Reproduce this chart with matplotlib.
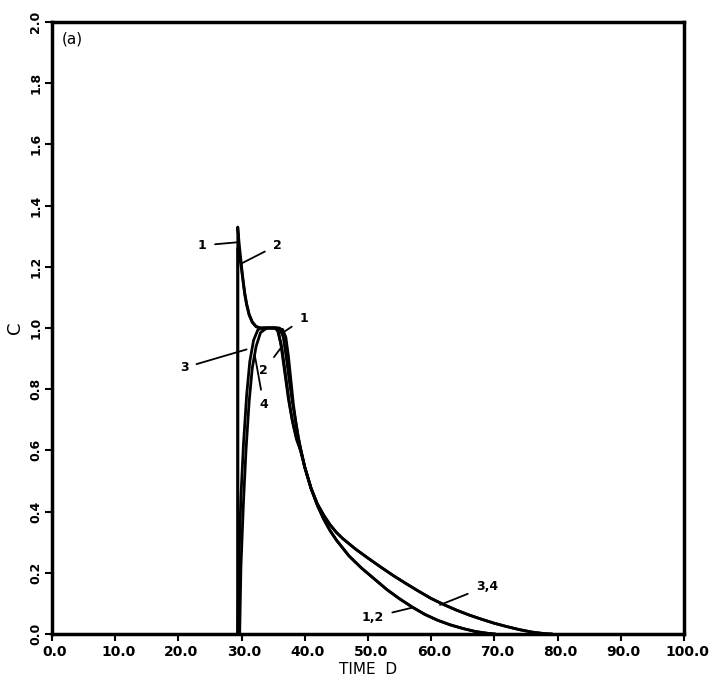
import numpy as np
import matplotlib
matplotlib.use('Agg')
import matplotlib.pyplot as plt
import matplotlib.transforms as mtransforms

plt.rcParams['font.family'] = 'DejaVu Sans'

# curves: time D, concentration C
t1 = [29.4, 29.4, 29.6, 29.8, 30.0, 30.25, 30.5, 30.8, 31.2, 31.7, 32.3, 33.0, 35.5, 36.5,
      37.0, 37.4, 37.8, 38.2, 38.6, 39.0, 39.5, 40.0, 41.0, 42.0, 43.0, 44.0, 45.0, 47.0,
      49.0, 51.0, 53.0, 55.0, 57.0, 59.0, 61.0, 63.0, 65.0, 67.0, 69.0, 70.0]
c1 = [0.0, 1.33, 1.28, 1.24, 1.20, 1.155, 1.115, 1.08, 1.045, 1.02, 1.005, 1.0, 1.0, 0.995,
      0.97, 0.91, 0.83, 0.75, 0.69, 0.64, 0.59, 0.545, 0.475, 0.42, 0.375, 0.338, 0.307, 0.255,
      0.215, 0.18, 0.145, 0.115, 0.088, 0.064, 0.045, 0.03, 0.018, 0.008, 0.002, 0.0]

t2 = [29.4, 29.4, 29.6, 29.8, 30.0, 30.25, 30.5, 30.8, 31.2, 31.7, 32.3, 33.0, 35.2, 35.8,
      36.4, 37.0, 37.6, 38.2, 38.7, 39.5, 40.0, 41.0, 42.0, 43.0, 44.0, 45.0, 47.0,
      49.0, 51.0, 53.0, 55.0, 57.0, 59.0, 61.0, 63.0, 65.0, 67.0, 69.0, 70.0]
c2 = [0.0, 1.26, 1.25, 1.225, 1.19, 1.15, 1.11, 1.075, 1.042, 1.018, 1.004, 1.0, 1.0, 0.99,
      0.93, 0.84, 0.75, 0.68, 0.635, 0.59, 0.545, 0.475, 0.42, 0.375, 0.338, 0.307, 0.255,
      0.215, 0.18, 0.145, 0.115, 0.088, 0.064, 0.045, 0.03, 0.018, 0.008, 0.002, 0.0]

t3 = [29.4, 29.6, 29.9, 30.3, 30.8, 31.3, 31.9, 32.6, 33.5, 36.0, 36.6, 37.1, 37.6, 38.1,
      38.6, 39.0, 39.5, 40.0, 41.0, 42.0, 43.0, 44.0, 45.0, 46.0, 48.0, 50.0, 52.0, 54.0,
      56.0, 58.0, 60.0, 62.0, 64.0, 66.0, 68.0, 70.0, 72.0, 74.0, 76.0, 78.0, 79.0]
c3 = [0.0, 0.25, 0.45, 0.62, 0.78, 0.89, 0.96, 0.995, 1.0, 1.0, 0.97, 0.90, 0.82, 0.75,
      0.69, 0.64, 0.59, 0.545, 0.476, 0.425, 0.388, 0.357, 0.332, 0.312, 0.278, 0.248, 0.219, 0.191,
      0.165, 0.14, 0.116, 0.096, 0.078, 0.062, 0.048, 0.035, 0.024, 0.014, 0.006, 0.001, 0.0]

t4 = [29.7, 29.9, 30.3, 30.7, 31.2, 31.7, 32.3, 33.0, 34.0, 35.6, 36.2, 36.8, 37.4, 38.0,
      38.6, 39.0, 39.5, 40.0, 41.0, 42.0, 43.0, 44.0, 45.0, 46.0, 48.0, 50.0, 52.0, 54.0,
      56.0, 58.0, 60.0, 62.0, 64.0, 66.0, 68.0, 70.0, 72.0, 74.0, 76.0, 78.0, 79.0]
c4 = [0.0, 0.22, 0.43, 0.60, 0.76, 0.87, 0.94, 0.985, 1.0, 1.0, 0.95, 0.86, 0.77, 0.70,
      0.65, 0.625, 0.585, 0.545, 0.476, 0.425, 0.388, 0.357, 0.332, 0.312, 0.278, 0.248, 0.219, 0.191,
      0.165, 0.14, 0.116, 0.096, 0.078, 0.062, 0.048, 0.035, 0.024, 0.014, 0.006, 0.001, 0.0]

xticks = np.arange(0, 101, 10)
yticks = np.arange(0, 2.01, 0.2)

fig = plt.figure(figsize=(7.09, 6.79), dpi=100)
ax = fig.add_axes([0.0733, 0.0663, 0.8914, 0.9013])

for t, c in [(t1, c1), (t2, c2), (t3, c3), (t4, c4)]:
    ax.plot(t, c, color='black', lw=2.0, solid_joinstyle='round')

ax.set_xlim(0, 100)
ax.set_ylim(0, 2)
ax.set_xticks(xticks)
ax.set_xticklabels(['%.1f' % v for v in xticks], fontsize=10, fontweight='bold')
ax.set_yticks(yticks)
ax.set_yticklabels(['%.1f' % v for v in yticks], fontsize=9, fontweight='bold',
                   rotation=90, va='center')
ax.tick_params(axis='both', direction='out', length=5, width=1.5)
ax.tick_params(axis='x', pad=3)
ax.tick_params(axis='y', pad=2)
shift = mtransforms.ScaledTranslation(3 / 100, 0, fig.dpi_scale_trans)
for lab in ax.get_xticklabels():
    lab.set_transform(lab.get_transform() + shift)
for s in ax.spines.values():
    s.set_linewidth(2.5)

ax.set_xlabel('TIME  D', fontsize=11, labelpad=2)
ax.set_ylabel('C', fontsize=13, labelpad=4)
ax.text(1.5, 1.93, '(a)', fontsize=11)

# curve labels with leader lines
labels = [
    ('1', (23.8, 1.27), (29.3, 1.28)),
    ('2', (35.6, 1.27), (29.9, 1.21)),
    ('1', (39.8, 1.03), (36.9, 0.99)),
    ('2', (33.5, 0.86), (36.4, 0.94)),
    ('3', (20.9, 0.87), (30.8, 0.93)),
    ('4', (33.5, 0.75), (32.1, 0.91)),
    ('3,4', (68.8, 0.156), (61.4, 0.095)),
    ('1,2', (50.8, 0.055), (57.0, 0.086)),
]
for txt, xy_text, xy in labels:
    ax.annotate(txt, xy=xy, xytext=xy_text, fontsize=9, fontweight='bold',
                ha='center', va='center',
                arrowprops=dict(arrowstyle='-', color='black', lw=1.3,
                                shrinkA=4, shrinkB=0))

fig.savefig('out.png', dpi=100)
